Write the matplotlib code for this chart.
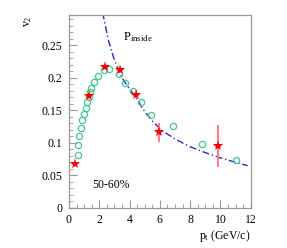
import numpy as np
import matplotlib
matplotlib.use("Agg")
import matplotlib.pyplot as plt
from matplotlib.ticker import MultipleLocator

plt.rcParams['font.family'] = ['Liberation Serif', 'DejaVu Serif']
plt.rcParams['mathtext.fontset'] = 'custom'
plt.rcParams['mathtext.rm'] = 'Liberation Serif'
plt.rcParams['mathtext.it'] = 'Liberation Serif:italic'

# red stars (data with errors)
star_pt = [0.4, 1.35, 2.38, 3.4, 4.43, 5.97, 9.82]
star_v2 = [0.068, 0.172, 0.217, 0.212, 0.174, 0.116, 0.095]
star_err = [0.0, 0.0, 0.0, 0.0, 0.0, 0.013, 0.031]

# green open circles (model)
circ_pt = [0.62, 0.62, 0.68, 0.77, 0.84, 0.99, 1.10, 1.19, 1.30, 1.37, 1.45,
           1.67, 1.92, 2.29, 2.66, 3.30, 3.72, 4.25, 4.73, 5.40, 6.85, 8.80, 11.0]
circ_v2 = [0.082, 0.097, 0.111, 0.123, 0.135, 0.145, 0.154, 0.163, 0.170, 0.178, 0.184,
           0.193, 0.202, 0.212, 0.213, 0.205, 0.192, 0.180, 0.163, 0.142, 0.126, 0.098, 0.074]

# blue dash-dot curve (P_inside)
curve_pt = [2.22, 2.6, 2.93, 3.3, 3.6, 4.0, 4.4, 5.0, 5.6, 6.2, 7.0, 8.0, 9.0, 10.0, 11.0, 11.8]
curve_v2 = [0.300, 0.258, 0.232, 0.210, 0.196, 0.183, 0.170, 0.148, 0.131, 0.118, 0.106,
            0.094, 0.085, 0.077, 0.070, 0.065]

fig = plt.figure(figsize=(2.87, 2.48), dpi=100)
ax = fig.add_axes([0.2404, 0.1613, 0.6331, 0.7802])

ax.plot(curve_pt, curve_v2, linestyle=(0, (5, 2, 1, 2)), color='#2828c8', lw=1.0)
ax.plot(circ_pt, circ_v2, 'o', mfc='none', mec='#40c890', ms=4.5, mew=0.9)
for x, y, e in zip(star_pt, star_v2, star_err):
    if e > 0:
        ax.plot([x, x], [y - e, y + e], color='#ff8080', lw=1.5)
ax.plot(star_pt, star_v2, '*', color='red', ms=8, mew=0)

ax.set_xlim(0, 12)
ax.set_ylim(0, 0.297)
ax.xaxis.set_minor_locator(MultipleLocator(0.5))
ax.yaxis.set_minor_locator(MultipleLocator(0.01))
ax.set_yticks([0, 0.05, 0.1, 0.15, 0.2, 0.25])
ax.set_yticklabels(['0', '0.05', '0.1', '0.15', '0.2', '0.25'])
ax.set_xticks([0, 2, 4, 6, 8, 10, 12])
ax.set_xticklabels(['0', '2', '4', '6', '8', '10', '12'])
ax.tick_params(which='both', direction='in', colors='#999999', labelcolor='black',
               labelsize=8.5, top=False, right=False)
ax.tick_params(which='major', length=6, width=0.8, pad=5)
ax.tick_params(axis='x', which='major', pad=4)
ax.tick_params(which='minor', length=3, width=0.6)
for s in ax.spines.values():
    s.set_color('#999999')
    s.set_linewidth(0.9)

ax.text(3.55, 0.258, r'P$_{\mathrm{inside}}$', fontsize=9)
ax.text(1.55, 0.035, '50-60%', fontsize=8.5, va='center')
fig.text(0.097, 0.915, r'v$_2$', rotation=90, fontsize=8.5, ha='center', va='center')
fig.text(0.872, 0.05, r'p$_{\mathrm{t}}$ (GeV/c)', fontsize=8.5, ha='right', va='center')

fig.savefig('out.png', dpi=100)
